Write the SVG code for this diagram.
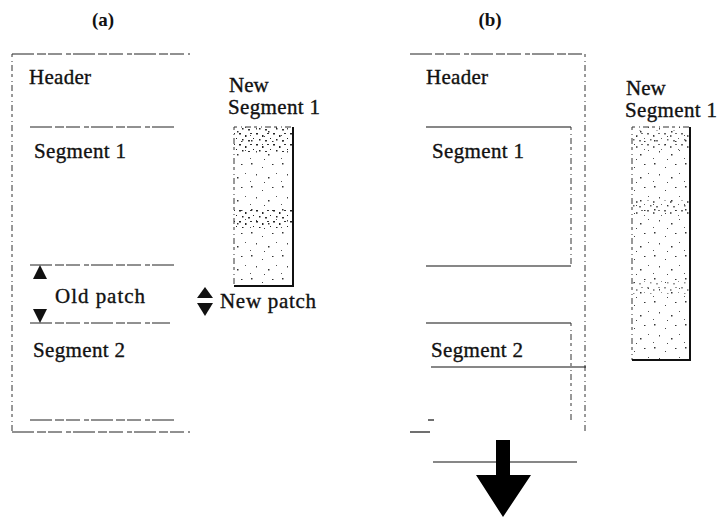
<svg xmlns="http://www.w3.org/2000/svg" width="720" height="518" viewBox="0 0 720 518">
  <style>
    .lbl { font-family: "Liberation Serif", "Times New Roman", serif; font-size: 21px; fill: #111; stroke: #111; stroke-width: 0.35; }
    .cap { font-family: "Liberation Serif", "Times New Roman", serif; font-size: 19px; font-weight: bold; fill: #111; }
    .dash { fill: none; stroke: #222; stroke-width: 1; stroke-dasharray: 22 3 9 2 14 4 5 2; }
    .dot { fill: none; stroke: #333; stroke-width: 1; stroke-dasharray: 3 4 1 3 6 3; }
    .solid { fill: none; stroke: #111; stroke-width: 1.2; }
    .edge { fill: none; stroke: #111; stroke-width: 2; }
    .tri { fill: #111; }
  </style>
  <defs>
    <!-- sparse speckle used as the base texture of the new segment -->
    <pattern id="speck" width="31" height="23" patternUnits="userSpaceOnUse">
      <rect x="3" y="2" width="1.5" height="1.5" fill="#333"/>
      <rect x="14" y="6" width="1" height="1" fill="#444"/>
      <rect x="24" y="3" width="1.5" height="1" fill="#333"/>
      <rect x="8" y="13" width="1" height="1.5" fill="#444"/>
      <rect x="20" y="16" width="1.5" height="1.5" fill="#333"/>
      <rect x="28" y="12" width="1" height="1" fill="#555"/>
      <rect x="2" y="20" width="1" height="1" fill="#555"/>
      <rect x="16" y="21" width="1" height="1" fill="#444"/>
    </pattern>
    <!-- denser speckle for the darker bands -->
    <pattern id="dense" width="17" height="11" patternUnits="userSpaceOnUse">
      <rect x="1" y="1" width="2" height="1.5" fill="#222"/>
      <rect x="7" y="3" width="1.5" height="2" fill="#222"/>
      <rect x="12" y="1" width="2" height="1" fill="#333"/>
      <rect x="4" y="7" width="1.5" height="1.5" fill="#222"/>
      <rect x="10" y="8" width="2" height="1.5" fill="#333"/>
      <rect x="15" y="6" width="1" height="1" fill="#222"/>
    </pattern>
  </defs>

  <!-- panel captions -->
  <text class="cap" x="103" y="26" text-anchor="middle">(a)</text>
  <text class="cap" x="490" y="26" text-anchor="middle">(b)</text>

  <!-- ===== panel (a): file before replacing segment 1 ===== -->
  <g id="file-a">
    <path class="dash" d="M12 54 H190"/>
    <path class="dot" d="M12 54 V432"/>
    <path class="dash" d="M12 432 H190"/>
    <text class="lbl" x="29" y="84" textLength="62">Header</text>
  </g>
  <g id="segment1-a">
    <path class="dash" d="M30 127 H175"/>
    <text class="lbl" x="34" y="158" textLength="92">Segment 1</text>
  </g>
  <g id="old-patch-a">
    <path class="dash" d="M30 265 H175"/>
    <polygon class="tri" points="33,279 40,265 47,279"/>
    <text class="lbl" x="55" y="303" textLength="90">Old patch</text>
    <polygon class="tri" points="33,309 47,309 40,323"/>
    <path class="dash" d="M30 323 H170"/>
  </g>
  <g id="segment2-a">
    <text class="lbl" x="33" y="357" textLength="92">Segment 2</text>
    <path class="dash" d="M30 420 H175"/>
  </g>
  <g id="new-segment-a">
    <text class="lbl" x="229" y="92">New</text>
    <text class="lbl" x="228" y="114" textLength="92">Segment 1</text>
    <rect x="234" y="127" width="59" height="159" fill="url(#speck)"/>
    <rect x="234" y="128" width="59" height="24" fill="url(#dense)"/>
    <rect x="234" y="208" width="59" height="20" fill="url(#dense)"/>
    <path class="dot" d="M234 127 H293 M234 127 V286"/>
    <path class="edge" d="M293 127 V286 H234"/>
  </g>
  <g id="new-patch-a">
    <polygon class="tri" points="197,298 205,287 213,298"/>
    <polygon class="tri" points="197,303 213,303 205,316"/>
    <text class="lbl" x="220" y="308" textLength="96">New patch</text>
  </g>

  <!-- ===== panel (b): file after replacing segment 1 ===== -->
  <g id="file-b">
    <path class="dash" d="M410 54 H585"/>
    <path class="dot" d="M585 54 V432"/>
    <path class="solid" d="M410 432 H430"/>
    <text class="lbl" x="426" y="84" textLength="62">Header</text>
  </g>
  <g id="segment1-b">
    <path class="solid" d="M426 127 H571"/>
    <path class="dot" d="M571 127 V266"/>
    <path class="solid" d="M426 266 H571"/>
    <text class="lbl" x="432" y="158" textLength="92">Segment 1</text>
  </g>
  <g id="segment2-b">
    <path class="solid" d="M426 323 H571"/>
    <path class="dot" d="M571 323 V422"/>
    <text class="lbl" x="431" y="357" textLength="92">Segment 2</text>
    <path class="solid" d="M431 367 H586"/>
    <path class="solid" d="M428 420 H434"/>
  </g>
  <g id="new-segment-b">
    <text class="lbl" x="626" y="95">New</text>
    <text class="lbl" x="625" y="117" textLength="92">Segment 1</text>
    <rect x="632" y="127" width="58" height="233" fill="url(#speck)"/>
    <rect x="632" y="130" width="58" height="20" fill="url(#dense)" opacity="0.7"/>
    <rect x="632" y="200" width="58" height="16" fill="url(#dense)" opacity="0.7"/>
    <rect x="632" y="280" width="58" height="14" fill="url(#dense)" opacity="0.5"/>
    <path class="dot" d="M632 127 H690 M632 127 V360"/>
    <path class="edge" d="M690 127 V360 H632"/>
  </g>

  <!-- ===== growth of the file ===== -->
  <g id="connectors">
    <path class="solid" d="M433 462 H577"/>
    <polygon fill="#000" points="496,440 510,440 510,475 531,475 503,517 476,475 496,475"/>
  </g>
</svg>
